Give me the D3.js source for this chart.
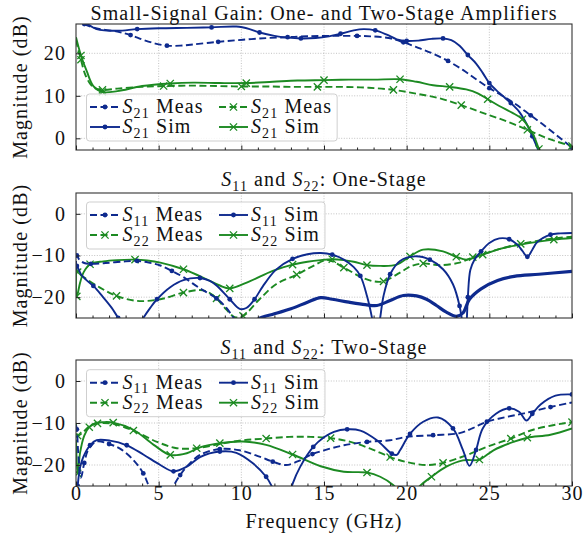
<!DOCTYPE html>
<html><head><meta charset="utf-8">
<script src="https://cdn.jsdelivr.net/npm/d3@7"></script>
<style>
body{margin:0;background:#fff}
svg{display:block}
text{letter-spacing:1.1px;fill:#111}
</style>
</head><body>
<svg id="c" width="583" height="534"></svg>
<script>
// ---------- data (GHz, dB) ----------
const xTicks = [0, 5, 10, 15, 20, 25, 30];
const xMinorTicks = d3.range(0, 31, 1);
const gainTicks = [0, 10, 20];
const reflTicks = [-20, -10, 0];

// Panel 1: Small-signal gain
const gainBlueMeas = [[0,28.5],[0.5,26.9],[1.2,25.9],[2.5,25.1],[3.3,24.3],[4.05,23.2],[4.8,22.3],[5.5,21.8],[6.3,21.8],[7.1,22.1],[8.6,22.7],[10.1,23.2],[11.6,23.6],[12.8,23.8],[14.0,24.0],[15.5,24.1],[17.0,24.1],[17.8,24.0],[18.9,23.6],[19.8,22.6],[20.7,21.3],[21.6,19.9],[22.5,18.2],[23.4,16.1],[24.2,13.9],[25.0,11.8],[25.8,10.0],[26.6,8.0],[27.5,5.4],[28.4,2.8],[29.2,0.3],[30.0,-2.2]];
const gainBlueSim = [[0,29.5],[0.6,27.2],[1.25,25.7],[2.5,25.3],[3.7,25.7],[5.0,25.9],[6.7,26.0],[8.2,26.1],[9.7,26.3],[10.5,25.7],[11.1,24.9],[12.0,24.1],[12.8,23.7],[13.6,23.5],[14.5,23.6],[15.3,24.0],[16.0,24.6],[16.8,25.4],[17.4,25.7],[18.1,25.4],[18.8,24.4],[19.4,23.3],[20.0,22.9],[20.7,23.0],[21.5,23.4],[22.2,23.5],[22.7,23.1],[23.2,21.8],[23.7,19.6],[24.2,17.6],[24.6,15.4],[25.0,13.0],[25.4,11.4],[25.8,10.0],[26.3,8.3],[26.8,6.3],[27.2,3.8],[27.6,0.5],[27.9,-2.2],[28.2,-5.0]];
const gainGreenMeas = [[0,23.1],[0.3,18.5],[0.6,14.6],[1.05,12.0],[1.6,11.4],[2.5,11.7],[3.9,12.1],[5.3,12.3],[6.9,12.4],[8.5,12.3],[10.0,12.2],[11.5,12.2],[13.1,12.1],[14.6,12.1],[16.2,12.1],[17.7,11.9],[19.2,11.4],[20.6,10.5],[22.0,9.4],[23.3,7.8],[24.6,6.0],[25.9,4.2],[27.3,2.0],[28.5,0.0],[29.7,-1.5],[30.0,-1.8]];
const gainGreenSim = [[0,23.8],[0.3,19.5],[0.65,15.8],[1.05,12.3],[1.6,10.9],[2.5,11.1],[4.0,12.3],[5.7,12.9],[7.1,13.1],[8.7,13.0],[10.3,13.0],[11.9,13.3],[13.4,13.6],[15.0,13.7],[16.5,13.8],[18.0,13.8],[19.6,13.9],[20.6,13.3],[21.6,12.5],[22.6,12.1],[23.6,11.5],[24.3,10.6],[24.9,9.2],[25.6,7.6],[26.4,6.0],[27.0,4.5],[27.4,2.5],[27.7,0.5],[28.0,-2.5],[28.2,-4.0]];

// Panel 2: One-stage S11 / S22
const oneS11Meas = [[0,-13.0],[0.05,-10.0],[0.2,-11.0],[0.5,-11.8],[0.9,-12.0],[1.8,-11.8],[3.0,-11.4],[3.7,-11.3],[4.4,-11.7],[5.1,-12.4],[5.8,-13.7],[6.5,-15.2],[7.5,-17.9],[8.5,-20.3],[9.1,-22.6],[9.6,-25.3],[10.0,-27.0],[10.5,-27.5],[11.0,-25.3],[12.0,-24.0],[13.0,-22.8],[14.0,-21.2],[14.8,-20.1],[15.5,-20.5],[16.5,-21.2],[17.5,-21.8],[18.2,-22.0],[19.0,-20.8],[19.8,-19.6],[20.6,-19.7],[21.2,-20.5],[21.8,-22.0],[22.4,-23.6],[23.0,-24.6],[23.4,-23.8],[23.8,-20.5],[24.5,-18.0],[25.5,-16.0],[26.5,-15.0],[28.0,-14.5],[30.0,-13.8]];
const oneS11Sim = [[0,-13.5],[0.05,-12.5],[0.3,-14.5],[0.6,-15.8],[1.05,-17.3],[1.6,-19.8],[2.15,-22.5],[2.55,-25.0],[2.9,-27.5],[3.3,-29.0],[3.7,-27.5],[4.07,-25.0],[4.5,-22.5],[4.9,-20.5],[5.7,-17.6],[6.5,-15.9],[7.5,-15.4],[8.1,-16.1],[8.5,-17.2],[9.3,-20.5],[9.9,-22.8],[10.3,-22.6],[10.8,-20.5],[11.3,-17.4],[12.1,-13.4],[13.1,-10.8],[14.0,-9.7],[14.8,-9.4],[15.5,-9.8],[16.2,-11.0],[16.8,-12.8],[17.2,-14.9],[17.6,-19.7],[17.9,-24.9],[18.15,-31.0],[18.4,-24.9],[18.6,-19.7],[19.0,-14.5],[19.6,-11.3],[20.5,-10.2],[21.4,-11.0],[22.2,-13.3],[22.8,-16.9],[23.2,-22.1],[23.4,-27.0],[23.55,-31.0],[23.7,-20.0],[23.85,-13.5],[24.1,-11.0],[24.5,-9.0],[25.0,-7.0],[25.6,-5.9],[26.2,-6.1],[26.7,-7.4],[27.0,-8.9],[27.3,-10.3],[27.6,-8.6],[27.9,-6.8],[28.7,-5.0],[29.3,-4.7],[30.0,-4.6]];
const oneS22Meas = [[0,-12.5],[0.1,-14.0],[0.5,-15.3],[1.45,-17.7],[2.45,-19.7],[3.7,-20.9],[5.1,-20.5],[6.5,-18.9],[7.5,-18.3],[8.0,-18.8],[8.5,-20.3],[9.1,-23.0],[9.6,-24.8],[10.1,-24.5],[11.1,-20.5],[12.1,-16.9],[13.35,-14.6],[14.3,-12.6],[15.2,-11.1],[16.2,-12.9],[17.2,-15.1],[18.0,-16.2],[18.6,-16.2],[19.6,-14.1],[20.3,-12.5],[21.0,-11.9],[22.0,-12.3],[23.2,-11.7],[24.0,-10.4],[25.0,-9.2],[25.65,-8.4],[26.9,-7.2],[28.7,-6.0],[30.0,-5.5]];
const oneS22Sim = [[0,-14.0],[0.05,-19.8],[0.25,-16.5],[0.45,-14.1],[0.85,-12.1],[1.65,-11.4],[2.5,-11.1],[3.57,-11.0],[4.3,-11.2],[5.1,-11.7],[6.5,-13.3],[7.9,-15.7],[8.7,-17.2],[9.3,-17.9],[10.5,-16.2],[11.9,-13.7],[13.1,-12.2],[14.0,-11.5],[14.8,-11.1],[15.5,-10.9],[16.2,-11.1],[16.8,-11.5],[17.6,-12.3],[18.4,-12.5],[19.4,-12.2],[20.2,-10.2],[21.0,-8.6],[22.2,-9.0],[23.0,-10.3],[23.6,-11.0],[24.1,-10.5],[24.6,-9.8],[25.65,-8.4],[27.3,-7.1],[28.9,-6.2],[30.0,-5.8]];

// Panel 3: Two-stage S11 / S22
const twoS11Meas = [[0,-10.5],[0.05,-11.5],[0.15,-18.0],[0.3,-23.0],[0.5,-19.5],[0.75,-16.3],[1.25,-14.4],[2.0,-15.0],[2.66,-16.1],[3.47,-18.8],[4.07,-22.0],[4.4,-25.0],[4.8,-29.0],[5.3,-30.0],[5.7,-27.0],[5.9,-25.0],[6.3,-22.4],[6.7,-20.4],[7.5,-17.6],[8.7,-16.2],[9.9,-16.5],[11.1,-18.0],[11.9,-19.2],[12.7,-20.0],[13.55,-18.9],[14.3,-17.4],[15.1,-16.4],[16.2,-15.3],[17.6,-14.5],[19.0,-14.1],[20.0,-13.3],[21.6,-12.9],[23.2,-12.4],[24.0,-11.2],[24.85,-9.7],[26.0,-8.6],[27.1,-7.7],[28.7,-6.2],[30.0,-5.1]];
const twoS11Sim = [[0,-30.0],[0.1,-25.0],[0.25,-20.5],[0.45,-18.0],[0.85,-15.3],[1.25,-14.1],[2.05,-14.2],[3.07,-15.3],[4.07,-17.5],[5.1,-20.0],[5.9,-21.5],[6.7,-20.4],[7.5,-18.1],[8.7,-16.8],[9.7,-17.1],[10.7,-19.6],[11.5,-22.8],[11.9,-25.5],[12.3,-29.0],[12.7,-30.0],[13.1,-24.5],[13.55,-20.5],[14.35,-15.7],[15.0,-13.4],[15.6,-12.1],[16.4,-11.5],[17.2,-11.8],[18.2,-14.1],[19.1,-17.3],[19.4,-17.6],[19.6,-16.5],[20.2,-12.6],[21.0,-9.7],[21.9,-8.7],[22.8,-11.3],[23.4,-16.4],[23.8,-20.2],[24.2,-16.4],[24.6,-11.3],[25.4,-7.8],[26.2,-6.5],[26.8,-7.3],[27.25,-9.4],[27.6,-7.8],[28.1,-5.6],[29.0,-3.5],[30.0,-3.2]];
const twoS22Meas = [[0,-10.0],[0.1,-13.0],[0.4,-12.3],[0.8,-10.8],[1.3,-10.1],[1.65,-10.0],[2.25,-10.2],[3.47,-11.8],[4.9,-14.5],[6.1,-16.0],[7.3,-16.0],[8.7,-15.0],[10.1,-14.1],[11.5,-13.7],[12.9,-13.3],[14.2,-13.3],[15.4,-13.6],[16.6,-14.5],[17.8,-16.1],[19.0,-18.1],[20.0,-19.3],[21.2,-20.0],[22.2,-19.5],[23.6,-17.7],[24.85,-15.7],[26.3,-13.7],[27.65,-11.6],[29.3,-10.2],[30.0,-9.8]];
const twoS22Sim = [[0,-14.0],[0.1,-22.0],[0.25,-17.0],[0.5,-13.0],[0.8,-11.0],[1.2,-10.0],[1.65,-9.8],[2.25,-9.9],[3.47,-11.6],[4.7,-15.2],[5.7,-17.6],[6.7,-17.2],[7.5,-15.8],[8.7,-14.8],[10.1,-14.4],[11.5,-15.2],[13.1,-17.5],[14.8,-20.3],[16.2,-21.6],[17.6,-21.8],[18.4,-22.8],[19.2,-24.8],[19.8,-27.5],[20.3,-27.5],[20.8,-25.0],[21.5,-22.8],[22.4,-20.4],[23.4,-18.9],[24.4,-18.7],[25.25,-16.5],[26.45,-14.5],[27.3,-13.5],[28.7,-12.8],[30.0,-11.3]];

// ---------- labels ----------
const S = (n) => [{t:'S', i:1}, {t:n, s:1}];
const gainTitle = [{t:'Small-Signal Gain: One- and Two-Stage Amplifiers'}];
const oneTitle = [...S('11'), {t:' and '}, ...S('22'), {t:': One-Stage'}];
const twoTitle = [...S('11'), {t:' and '}, ...S('22'), {t:': Two-Stage'}];
const xLabel = 'Frequency (GHz)';
const yLabel = 'Magnitude (dB)';

// ---------- styling ----------
const FONT = '"Liberation Serif","Times New Roman","DejaVu Serif",serif';
const FS = 20;
const BLUE = '#0e2a8e', GREEN = '#1c8a22';
const X0 = 76, X1 = 572;
const x = d3.scaleLinear().domain([0, 30]).range([X0, X1]);
const svg = d3.select('#c').attr('font-family', FONT).attr('font-size', FS);

const panels = [
  {top:24, bottom:150, domain:[-2.75, 26.9], ticks:gainTicks, title:gainTitle, titleY:20, rows:[107,127], showX:false,
   series:[
     {data:gainBlueMeas, color:BLUE, dash:true, marker:'dot'},
     {data:gainBlueSim, color:BLUE, dash:false, marker:'dot'},
     {data:gainGreenMeas, color:GREEN, dash:true, marker:'x'},
     {data:gainGreenSim, color:GREEN, dash:false, marker:'x'}],
   legend:[
     {col:0,row:0,color:BLUE,dash:true,marker:'dot',label:[...S('21'),{t:' Meas'}]},
     {col:0,row:1,color:BLUE,dash:false,marker:'dot',label:[...S('21'),{t:' Sim'}]},
     {col:1,row:0,color:GREEN,dash:true,marker:'x',label:[...S('21'),{t:' Meas'}]},
     {col:1,row:1,color:GREEN,dash:false,marker:'x',label:[...S('21'),{t:' Sim'}]}]},
  {top:193, bottom:318, domain:[-25, 5], ticks:reflTicks, title:oneTitle, titleY:186, rows:[215,235], showX:false,
   series:[
     {data:oneS22Meas, color:GREEN, dash:true, marker:'x'},
     {data:oneS22Sim, color:GREEN, dash:false, marker:'x'},
     {data:oneS11Meas, color:BLUE, dash:true, marker:'dot', noisyFrom:10.5},
     {data:oneS11Sim, color:BLUE, dash:false, marker:'dot'}]},
  {top:360, bottom:486, domain:[-25, 5], ticks:reflTicks, title:twoTitle, titleY:354, rows:[382.7,402.7], showX:true,
   series:[
     {data:twoS22Meas, color:GREEN, dash:true, marker:'x'},
     {data:twoS22Sim, color:GREEN, dash:false, marker:'x'},
     {data:twoS11Meas, color:BLUE, dash:true, marker:'dot'},
     {data:twoS11Sim, color:BLUE, dash:false, marker:'dot'}]}
];
const reflLegend = [
  {col:0,row:0,color:BLUE,dash:true,marker:'dot',label:[...S('11'),{t:' Meas'}]},
  {col:0,row:1,color:GREEN,dash:true,marker:'x',label:[...S('22'),{t:' Meas'}]},
  {col:1,row:0,color:BLUE,dash:false,marker:'dot',label:[...S('11'),{t:' Sim'}]},
  {col:1,row:1,color:GREEN,dash:false,marker:'x',label:[...S('22'),{t:' Sim'}]}];
panels[1].legend = reflLegend;
panels[2].legend = reflLegend;

function rich(sel, parts){
  let shift = 0;
  parts.forEach(p => {
    const ts = sel.append('tspan').text(p.t);
    if (p.i) ts.attr('font-style', 'italic');
    const target = p.s ? 4.5 : 0;
    if (target !== shift) { ts.attr('dy', target - shift); shift = target; }
    if (p.s) ts.attr('font-size', '14px');
  });
}
function drawMarker(g, type, color, cx, cy){
  if (type === 'dot') {
    g.append('circle').attr('cx', cx).attr('cy', cy).attr('r', 2.4).attr('fill', color);
  } else {
    const s = 3.6;
    g.append('path').attr('d', `M${cx-s},${cy-s}L${cx+s},${cy+s}M${cx-s},${cy+s}L${cx+s},${cy-s}`)
      .attr('stroke', color).attr('stroke-width', 1.3).attr('fill', 'none');
  }
}
const DASH = '7,3.5';

panels.forEach((p, pi) => {
  const y = d3.scaleLinear().domain(p.domain).range([p.bottom, p.top]);
  const g = svg.append('g');
  const clipId = 'clip' + pi;
  svg.append('defs').append('clipPath').attr('id', clipId)
    .append('rect').attr('x', X0).attr('y', p.top).attr('width', X1 - X0).attr('height', p.bottom - p.top);

  const grid = g.append('g').attr('stroke', '#b4b4b4').attr('stroke-width', 0.8).attr('stroke-dasharray', '1,1.6');
  xTicks.filter(t => t > 0 && t < 30).forEach(t =>
    grid.append('line').attr('x1', x(t)).attr('x2', x(t)).attr('y1', p.top).attr('y2', p.bottom));
  p.ticks.forEach(t =>
    grid.append('line').attr('x1', X0).attr('x2', X1).attr('y1', y(t)).attr('y2', y(t)));

  const line = d3.line().x(d => x(d[0])).y(d => y(d[1])).curve(d3.curveCatmullRom.alpha(0.5));
  const plot = g.append('g').attr('clip-path', `url(#${clipId})`);
  p.series.forEach(s => {
    let main = s.data, noisy = null;
    if (s.noisyFrom !== undefined) {
      main = s.data.filter(d => d[0] <= s.noisyFrom);
      noisy = s.data.filter(d => d[0] >= s.noisyFrom);
    }
    plot.append('path').attr('d', line(main)).attr('fill', 'none').attr('stroke', s.color)
      .attr('stroke-width', 1.9).attr('stroke-dasharray', s.dash ? DASH : null);
    if (noisy) {
      plot.append('path').attr('d', line(noisy)).attr('fill', 'none').attr('stroke', s.color)
        .attr('stroke-width', 3.2).attr('stroke-linejoin', 'round');
    }
    const mk = plot.append('g');
    main.forEach((d, i) => { if (i % 3 === 1) drawMarker(mk, s.marker, s.color, x(d[0]), y(d[1])); });
  });

  g.append('rect').attr('x', X0).attr('y', p.top).attr('width', X1 - X0).attr('height', p.bottom - p.top)
    .attr('fill', 'none').attr('stroke', '#333').attr('stroke-width', 1.1);

  const xa = g.append('g').attr('transform', `translate(0,${p.bottom})`)
    .call(d3.axisBottom(x).tickValues(xTicks).tickSize(-4.5).tickPadding(0)
      .tickFormat(p.showX ? d3.format('d') : () => ''));
  const xm = g.append('g').attr('transform', `translate(0,${p.bottom})`)
    .call(d3.axisBottom(x).tickValues(xMinorTicks.filter(t => t % 5 !== 0)).tickSize(-2.5).tickFormat(() => ''));
  const ya = g.append('g').attr('transform', `translate(${X0},0)`)
    .call(d3.axisLeft(y).tickValues(p.ticks).tickSize(-4.5).tickPadding(10));
  [xa, xm, ya].forEach(a => {
    a.attr('font-family', FONT).attr('font-size', FS);
    a.select('.domain').remove();
    a.selectAll('line').attr('stroke', '#222').attr('stroke-width', 1);
    a.selectAll('text').attr('fill', '#111');
  });

  const tt = g.append('text').attr('x', (X0 + X1) / 2).attr('y', p.titleY).attr('text-anchor', 'middle');
  rich(tt, p.title);

  g.append('text').attr('transform', `translate(27,${(p.top + p.bottom) / 2}) rotate(-90)`)
    .attr('text-anchor', 'middle').text(yLabel);

  const lg = g.append('g');
  const box = lg.append('rect');
  const colH = [[90, 120, 122.5], [219, 248, 251]];
  let right = 0;
  p.legend.forEach(e => {
    const cy = p.rows[e.row];
    const [h0, h1, tx] = colH[e.col];
    lg.append('line').attr('x1', h0).attr('x2', h1).attr('y1', cy).attr('y2', cy)
      .attr('stroke', e.color).attr('stroke-width', 1.9).attr('stroke-dasharray', e.dash ? DASH : null);
    drawMarker(lg, e.marker, e.color, (h0 + h1) / 2, cy);
    const t = lg.append('text').attr('x', tx).attr('y', cy + 6);
    rich(t, e.label);
    const bb = t.node().getBBox();
    right = Math.max(right, bb.x + bb.width);
  });
  box.attr('x', 86.5).attr('y', p.rows[0] - 13).attr('width', right + 5 - 86.5)
    .attr('height', p.rows[1] - p.rows[0] + 27).attr('rx', 3)
    .attr('fill', '#fff').attr('fill-opacity', 0.82).attr('stroke', '#cfcfcf').attr('stroke-width', 1);
});

svg.append('text').attr('x', (X0 + X1) / 2).attr('y', 528).attr('text-anchor', 'middle').text(xLabel);
</script>
</body></html>
